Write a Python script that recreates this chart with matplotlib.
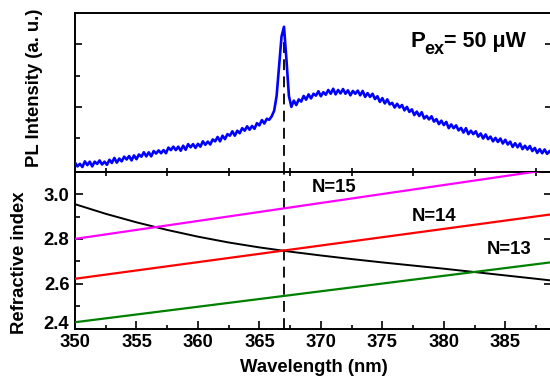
import numpy as np
import matplotlib
matplotlib.use("Agg")
import matplotlib.pyplot as plt
from matplotlib.ticker import FixedLocator, NullFormatter

plt.rcParams['font.family'] = ['Liberation Sans', 'DejaVu Sans']
plt.rcParams['font.weight'] = 'bold'

# ---------------- data ----------------
# PL spectrum (top panel), wavelength grid 350.0 .. 388.8 nm step 0.2
pl_wavelength = np.round(np.arange(350.0, 388.81, 0.2), 1)
pl_intensity = [
    0.22, 0.10, 0.18, 0.08, 0.26,
    0.14, 0.25, 0.10, 0.25, 0.18,
    0.29, 0.16, 0.25, 0.15, 0.31,
    0.21, 0.37, 0.22, 0.35, 0.26,
    0.41, 0.32, 0.43, 0.29, 0.45,
    0.33, 0.48, 0.41, 0.55, 0.42,
    0.55, 0.42, 0.59, 0.51, 0.61,
    0.52, 0.62, 0.52, 0.70, 0.62,
    0.73, 0.62, 0.73, 0.60, 0.76,
    0.63, 0.81, 0.71, 0.81, 0.69,
    0.82, 0.73, 0.90, 0.79, 0.89,
    0.80, 0.96, 0.90, 1.04, 0.90,
    1.08, 0.97, 1.13, 1.08, 1.22,
    1.08, 1.24, 1.16, 1.32, 1.24,
    1.38, 1.27, 1.39, 1.30, 1.48,
    1.41, 1.58, 1.47, 1.62, 1.59,
    1.70, 1.88, 2.35, 3.30, 4.25,
    4.56, 3.50, 2.35, 2.00, 2.20,
    2.06, 2.24, 2.17, 2.35, 2.23,
    2.40, 2.27, 2.42, 2.36, 2.50,
    2.34, 2.47, 2.39, 2.54, 2.42,
    2.58, 2.40, 2.54, 2.43, 2.57,
    2.42, 2.53, 2.37, 2.51, 2.42,
    2.52, 2.37, 2.51, 2.32, 2.44,
    2.32, 2.42, 2.25, 2.34, 2.16,
    2.28, 2.11, 2.24, 2.08, 2.13,
    1.98, 2.10, 1.98, 2.06, 1.89,
    2.00, 1.84, 1.92, 1.74, 1.85,
    1.71, 1.83, 1.63, 1.71, 1.60,
    1.70, 1.53, 1.61, 1.45, 1.56,
    1.42, 1.52, 1.32, 1.44, 1.32,
    1.41, 1.25, 1.33, 1.18, 1.32,
    1.13, 1.24, 1.13, 1.22, 1.05,
    1.15, 0.99, 1.12, 0.97, 1.05,
    0.90, 1.01, 0.88, 0.99, 0.83,
    0.95, 0.80, 0.89, 0.72, 0.84,
    0.71, 0.83, 0.65, 0.76, 0.64,
    0.75, 0.59, 0.69, 0.53, 0.65,
    0.52, 0.64, 0.50, 0.59, 0.49,
]

# Refractive index (bottom panel)
n_wavelength = [350, 352.5, 355, 357.5, 360, 362.5, 365, 367.5, 370,
                372.5, 375, 377.5, 380, 382.5, 385, 387.5, 388.8]
n_material = [2.955, 2.912, 2.874, 2.840, 2.810, 2.784, 2.762, 2.743, 2.726,
              2.710, 2.695, 2.681, 2.667, 2.652, 2.637, 2.622, 2.614]
mode_wavelength = [350, 388.8]
n_mode15 = [2.800, 3.111]
n_mode14 = [2.622, 2.910]
n_mode13 = [2.428, 2.696]

mode_labels = ["N=15", "N=14", "N=13"]
mode_label_x = [371.1, 379.2, 385.35]
mode_label_y = [3.03, 2.90, 2.754]

peak_wavelength = 367.0
peak_top = 4.3

x_major = [350, 355, 360, 365, 370, 375, 380, 385]
x_minor = [352.5, 357.5, 362.5, 367.5, 372.5, 377.5, 382.5, 387.5]
y_major = [2.4, 2.6, 2.8, 3.0]
y_minor = [2.5, 2.7, 2.9]

FS = 13.3

# ---------------- figure ----------------
W, H = 550, 378
fig = plt.figure(figsize=(W / 100, H / 100), dpi=100)
left = 75 / W
width = 477 / W
ax_top = fig.add_axes([left, 1 - 171.7 / H, width, (171.7 - 13.3) / H])
ax_bot = fig.add_axes([left, 1 - 328.5 / H, width, (328.5 - 171.7) / H])

for ax in (ax_top, ax_bot):
    for s in ax.spines.values():
        s.set_linewidth(1.4)
    ax.set_xlim(350, 388.8)

dash = (0, (6, 3.5))

# top panel
ax_top.plot(pl_wavelength, pl_intensity, color='#0000FF', lw=1.9, zorder=3)
ax_top.plot([peak_wavelength, peak_wavelength], [-0.1, peak_top], color='black',
            lw=1.3, linestyle=dash, zorder=2)
ax_top.set_ylim(-0.07, 4.99)
ax_top.set_ylabel("PL Intensity (a. u.)", fontsize=FS, fontweight='bold')
ax_top.yaxis.set_label_coords(-0.067, 0.53)
ax_top.xaxis.set_major_locator(FixedLocator(x_minor))
ax_top.xaxis.set_major_formatter(NullFormatter())
ax_top.yaxis.set_major_locator(FixedLocator([2, 4]))
ax_top.yaxis.set_minor_locator(FixedLocator([1, 3]))
ax_top.yaxis.set_major_formatter(NullFormatter())
ax_top.tick_params(axis='x', which='major', direction='in', length=3, width=1.2,
                   bottom=True, top=False)
ax_top.tick_params(axis='y', which='major', direction='in', length=5, width=1.2,
                   left=True, right=True)
ax_top.tick_params(axis='y', which='minor', direction='in', length=3.5, width=1.2,
                   left=True, right=False)

# P_ex annotation
fig.text(411.0 / W, 1 - 46.7 / H, "P", fontsize=16, fontweight='bold',
         ha='left', va='baseline')
fig.text(424.5 / W, 1 - 53.5 / H, "ex", fontsize=13, fontweight='bold',
         ha='left', va='baseline')
fig.text(444.5 / W, 1 - 46.7 / H, "= 50 \u03bcW", fontsize=15.5, fontweight='bold',
         ha='left', va='baseline')

# bottom panel
ax_bot.plot(n_wavelength, n_material, color='black', lw=1.4, zorder=3)
ax_bot.plot(mode_wavelength, n_mode15, color='#FF00FF', lw=1.6, zorder=3)
ax_bot.plot(mode_wavelength, n_mode14, color='#FF0000', lw=1.6, zorder=3)
ax_bot.plot(mode_wavelength, n_mode13, color='#008000', lw=1.6, zorder=3)
ax_bot.plot([peak_wavelength, peak_wavelength], [2.4, 3.1], color='black',
            lw=1.3, linestyle=dash, zorder=2)
for lab, x, y in zip(mode_labels, mode_label_x, mode_label_y):
    ax_bot.text(x, y, lab, fontsize=FS, fontweight='bold', ha='center', va='center')

ax_bot.set_ylim(2.4, 3.1)
ax_bot.xaxis.set_major_locator(FixedLocator(x_major))
ax_bot.xaxis.set_minor_locator(FixedLocator(x_minor))
ax_bot.set_xticklabels([str(v) for v in x_major])
ax_bot.yaxis.set_major_locator(FixedLocator(y_major))
ax_bot.yaxis.set_minor_locator(FixedLocator(y_minor))
ax_bot.set_yticklabels([f"{v:.1f}" for v in y_major])
ax_bot.tick_params(axis='both', which='major', direction='in', length=5.5, width=1.2,
                   labelsize=FS, pad=4)
ax_bot.tick_params(axis='x', which='major', top=False, bottom=True)
ax_bot.tick_params(axis='x', which='minor', direction='in', length=3, width=1.2,
                   top=True, bottom=True)
ax_bot.tick_params(axis='y', which='major', right=True)
ax_bot.tick_params(axis='y', which='minor', direction='in', length=3.5, width=1.2,
                   left=True, right=False)
for lbl in ax_bot.get_xticklabels() + ax_bot.get_yticklabels():
    lbl.set_fontweight('bold')
# lowest y label sits slightly above its tick (as in the reference)
ax_bot.get_yticklabels()[0].set_verticalalignment('baseline')
ax_bot.set_xlabel("Wavelength (nm)", fontsize=FS, fontweight='bold', labelpad=6)
ax_bot.set_ylabel("Refractive index", fontsize=FS, fontweight='bold')
ax_bot.yaxis.set_label_coords(-0.098, 0.42)

fig.savefig("out.png", dpi=100)
